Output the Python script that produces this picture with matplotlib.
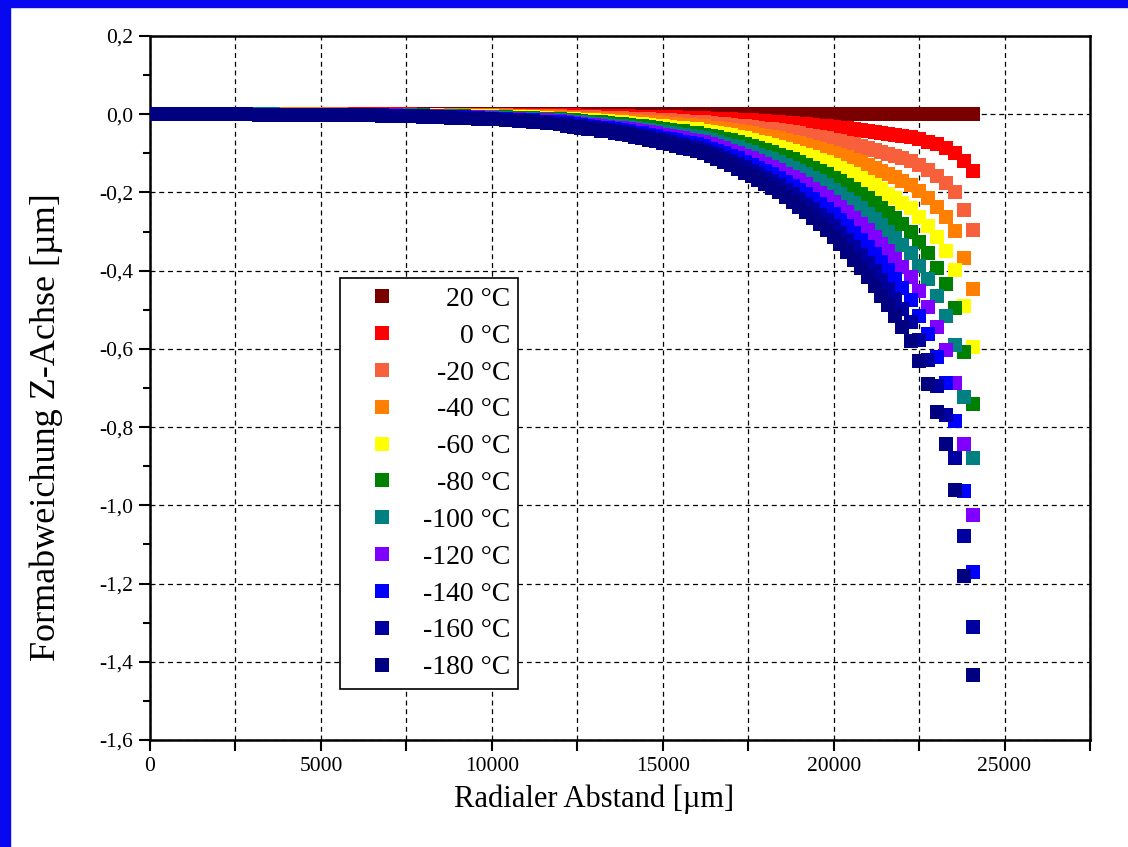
import matplotlib
matplotlib.use("Agg")
import matplotlib.pyplot as plt
from matplotlib.ticker import MultipleLocator, FuncFormatter
from matplotlib.patches import Rectangle

plt.rcParams['font.family'] = ['Liberation Serif', 'DejaVu Serif']

# radiale Stuetzstellen [um]
x = [0, 400, 800, 1200, 1600, 2000, 2400, 2800, 3200, 3600, 4000, 4400, 4800, 5200, 5600,
     6000, 6400, 6800, 7200, 7600, 8000, 8400, 8800, 9200, 9600, 10000, 10400, 10800, 11200,
     11600, 12000,
     12200, 12400, 12600, 12800, 13000, 13200, 13400, 13600, 13800, 14000, 14200, 14400,
     14600, 14800, 15000, 15200, 15400, 15600, 15800, 16000, 16200, 16400, 16600, 16800,
     17000, 17200, 17400, 17600, 17800, 18000, 18200, 18400, 18600, 18800, 19000, 19200,
     19400, 19600, 19800, 20000, 20200, 20400, 20600, 20800, 21000, 21200, 21400, 21600,
     21800, 22000, 22250, 22500, 22750, 23020, 23290, 23550, 23820, 24090]

# Formabweichung [um] je Temperatur
z_p20 = [0, 0, 0, 0, 0, 0, 0, 0, 0, 0, 0, 0, 0, 0, 0, 0, 0, 0, 0, 0, 0, 0, 0, 0, 0, 0, 0, 0, 0, 0, 0,
         0, 0, 0, 0, 0, 0, 0, 0, 0, 0, 0, 0, 0, 0, 0, 0, 0, 0, 0, 0, 0, 0, 0, 0, 0, 0, 0, 0, 0, 0,
         0, 0, 0, 0, 0, 0, 0, 0, 0, 0, 0, 0, 0, 0, 0, 0, 0, 0, 0, 0, 0, 0, 0, 0, 0, 0, 0, 0]
z_0 = [0, 0, 0, 0, 0, 0, 0, 0, 0, 0, 0, 0, 0, 0, 0, 0, 0, 0, 0, 0, -0.001, -0.001, -0.001, -0.001,
       -0.001, -0.001, -0.002, -0.002, -0.002, -0.002, -0.003,
       -0.003, -0.003, -0.004, -0.004, -0.004, -0.004, -0.005, -0.005, -0.005, -0.005, -0.006,
       -0.006, -0.007, -0.007, -0.007, -0.008, -0.008, -0.009, -0.009, -0.010, -0.010, -0.011,
       -0.012, -0.012, -0.013, -0.014, -0.015, -0.016, -0.017, -0.018, -0.019, -0.020, -0.022,
       -0.023, -0.024, -0.026, -0.027, -0.029, -0.030, -0.032, -0.034, -0.036, -0.038, -0.040,
       -0.042, -0.045, -0.047, -0.050, -0.053, -0.055, -0.059, -0.064, -0.070, -0.077, -0.086,
       -0.098, -0.120, -0.146]
z_m20 = [0, 0, 0, 0, 0, 0, 0, 0, 0, 0, 0, 0, 0, 0, 0, -0.001, -0.001, -0.001, -0.001, -0.001,
         -0.001, -0.001, -0.002, -0.002, -0.002, -0.003, -0.003, -0.004, -0.004, -0.005, -0.005,
         -0.006, -0.007, -0.007, -0.008, -0.008, -0.009, -0.009, -0.010, -0.010, -0.011, -0.012,
         -0.012, -0.013, -0.014, -0.015, -0.016, -0.017, -0.018, -0.019, -0.020, -0.021, -0.022,
         -0.024, -0.025, -0.027, -0.029, -0.031, -0.033, -0.035, -0.037, -0.039, -0.041, -0.044,
         -0.046, -0.049, -0.052, -0.055, -0.058, -0.061, -0.065, -0.069, -0.073, -0.077, -0.081,
         -0.086, -0.091, -0.096, -0.101, -0.107, -0.113, -0.120, -0.131, -0.143, -0.157, -0.175,
         -0.199, -0.244, -0.297]
z_m40 = [0, 0, 0, 0, 0, 0, 0, 0, 0, 0, 0, 0, 0, -0.001, -0.001, -0.001, -0.001, -0.001, -0.001,
         -0.002, -0.002, -0.002, -0.003, -0.003, -0.004, -0.004, -0.005, -0.005, -0.006, -0.007,
         -0.008,
         -0.009, -0.010, -0.011, -0.012, -0.012, -0.013, -0.014, -0.015, -0.016, -0.017, -0.018,
         -0.019, -0.020, -0.021, -0.023, -0.024, -0.025, -0.027, -0.028, -0.030, -0.031, -0.034,
         -0.036, -0.038, -0.041, -0.043, -0.046, -0.049, -0.052, -0.055, -0.059, -0.062, -0.066,
         -0.070, -0.074, -0.078, -0.083, -0.088, -0.093, -0.098, -0.104, -0.110, -0.116, -0.122,
         -0.130, -0.137, -0.144, -0.152, -0.161, -0.170, -0.181, -0.197, -0.215, -0.237, -0.263,
         -0.299, -0.368, -0.447]
z_m60 = [0, 0, 0, 0, 0, 0, 0, 0, 0, 0, -0.001, -0.001, -0.001, -0.001, -0.001, -0.001, -0.001,
         -0.001, -0.002, -0.002, -0.002, -0.003, -0.004, -0.004, -0.005, -0.005, -0.006, -0.007,
         -0.008, -0.010, -0.011,
         -0.012, -0.013, -0.014, -0.015, -0.016, -0.017, -0.018, -0.020, -0.021, -0.022, -0.024,
         -0.025, -0.027, -0.029, -0.030, -0.032, -0.034, -0.036, -0.037, -0.039, -0.042, -0.045,
         -0.048, -0.051, -0.054, -0.058, -0.062, -0.065, -0.070, -0.074, -0.078, -0.083, -0.088,
         -0.093, -0.098, -0.104, -0.110, -0.117, -0.123, -0.130, -0.138, -0.146, -0.154, -0.163,
         -0.173, -0.182, -0.192, -0.203, -0.214, -0.226, -0.241, -0.262, -0.286, -0.315, -0.350,
         -0.399, -0.490, -0.595]
z_m80 = [0, 0, 0, 0, 0, 0, 0, 0, 0, 0, -0.001, -0.001, -0.001, -0.001, -0.001, -0.001, -0.001,
         -0.002, -0.002, -0.003, -0.003, -0.004, -0.004, -0.005, -0.006, -0.007, -0.008, -0.009,
         -0.010, -0.012, -0.013,
         -0.015, -0.016, -0.018, -0.019, -0.020, -0.021, -0.023, -0.024, -0.026, -0.027, -0.030,
         -0.031, -0.033, -0.036, -0.038, -0.040, -0.042, -0.044, -0.047, -0.049, -0.052, -0.056,
         -0.059, -0.063, -0.067, -0.072, -0.077, -0.081, -0.087, -0.092, -0.097, -0.103, -0.110,
         -0.115, -0.122, -0.130, -0.137, -0.145, -0.153, -0.162, -0.172, -0.181, -0.192, -0.203,
         -0.215, -0.226, -0.239, -0.252, -0.266, -0.281, -0.300, -0.326, -0.355, -0.392, -0.435,
         -0.496, -0.609, -0.740]
z_m100 = [0, 0, 0, 0, 0, 0, 0, 0, 0, 0, -0.001, -0.001, -0.001, -0.001, -0.001, -0.002, -0.002,
          -0.002, -0.003, -0.003, -0.004, -0.004, -0.005, -0.006, -0.007, -0.008, -0.009, -0.011,
          -0.012, -0.014, -0.016,
          -0.018, -0.019, -0.021, -0.023, -0.024, -0.026, -0.027, -0.029, -0.031, -0.033, -0.035,
          -0.037, -0.040, -0.042, -0.045, -0.048, -0.050, -0.053, -0.055, -0.058, -0.062, -0.066,
          -0.070, -0.075, -0.080, -0.085, -0.092, -0.097, -0.103, -0.109, -0.115, -0.122, -0.130,
          -0.137, -0.145, -0.154, -0.163, -0.172, -0.182, -0.193, -0.204, -0.216, -0.228, -0.241,
          -0.255, -0.269, -0.284, -0.300, -0.317, -0.334, -0.356, -0.387, -0.422, -0.466, -0.517,
          -0.590, -0.724, -0.880]
z_m120 = [0, 0, 0, 0, 0, 0, 0, 0, -0.001, -0.001, -0.001, -0.001, -0.001, -0.002, -0.002, -0.002,
          -0.002, -0.003, -0.003, -0.004, -0.004, -0.005, -0.006, -0.007, -0.008, -0.009, -0.011,
          -0.012, -0.014, -0.016, -0.018,
          -0.021, -0.023, -0.025, -0.027, -0.028, -0.030, -0.032, -0.034, -0.036, -0.038, -0.041,
          -0.043, -0.046, -0.049, -0.052, -0.055, -0.058, -0.062, -0.065, -0.068, -0.072, -0.077,
          -0.082, -0.087, -0.093, -0.099, -0.107, -0.113, -0.120, -0.127, -0.134, -0.142, -0.152,
          -0.160, -0.169, -0.179, -0.190, -0.201, -0.212, -0.224, -0.238, -0.251, -0.265, -0.281,
          -0.297, -0.314, -0.331, -0.350, -0.369, -0.390, -0.415, -0.451, -0.492, -0.543, -0.603,
          -0.687, -0.844, -1.025]
z_m140 = [0, 0, 0, 0, 0, 0, 0, 0, -0.001, -0.001, -0.001, -0.001, -0.001, -0.002, -0.002, -0.002,
          -0.002, -0.003, -0.004, -0.004, -0.005, -0.006, -0.007, -0.008, -0.009, -0.011, -0.012,
          -0.014, -0.016, -0.019, -0.021,
          -0.023, -0.026, -0.028, -0.030, -0.032, -0.034, -0.036, -0.039, -0.041, -0.043, -0.047,
          -0.049, -0.053, -0.056, -0.060, -0.063, -0.067, -0.070, -0.074, -0.077, -0.082, -0.088,
          -0.094, -0.099, -0.106, -0.113, -0.122, -0.129, -0.137, -0.145, -0.153, -0.163, -0.173,
          -0.183, -0.193, -0.205, -0.216, -0.229, -0.242, -0.256, -0.271, -0.287, -0.303, -0.321,
          -0.339, -0.358, -0.378, -0.399, -0.421, -0.445, -0.474, -0.515, -0.562, -0.620, -0.688,
          -0.784, -0.963, -1.170]
z_m160 = [0, 0, 0, 0, 0, 0, 0, 0, -0.001, -0.001, -0.001, -0.001, -0.001, -0.002, -0.002, -0.003,
          -0.003, -0.003, -0.004, -0.005, -0.005, -0.007, -0.008, -0.009, -0.010, -0.012, -0.014,
          -0.016, -0.018, -0.021, -0.024,
          -0.026, -0.029, -0.031, -0.034, -0.035, -0.038, -0.041, -0.043, -0.046, -0.048, -0.052,
          -0.055, -0.059, -0.063, -0.067, -0.071, -0.075, -0.079, -0.083, -0.086, -0.092, -0.098,
          -0.105, -0.111, -0.119, -0.127, -0.136, -0.144, -0.153, -0.162, -0.172, -0.182, -0.194,
          -0.204, -0.216, -0.229, -0.242, -0.257, -0.271, -0.287, -0.304, -0.321, -0.339, -0.359,
          -0.380, -0.401, -0.423, -0.447, -0.472, -0.498, -0.531, -0.576, -0.629, -0.694, -0.770,
          -0.878, -1.078, -1.310]
z_m180 = [0, 0, 0, 0, 0, 0, 0, 0, -0.001, -0.001, -0.001, -0.001, -0.001, -0.002, -0.002, -0.003,
          -0.003, -0.004, -0.004, -0.005, -0.006, -0.007, -0.009, -0.010, -0.011, -0.013, -0.015,
          -0.017, -0.020, -0.023, -0.026,
          -0.029, -0.032, -0.034, -0.037, -0.039, -0.042, -0.044, -0.047, -0.050, -0.053, -0.057,
          -0.060, -0.065, -0.069, -0.073, -0.077, -0.082, -0.086, -0.090, -0.095, -0.100, -0.108,
          -0.115, -0.122, -0.131, -0.139, -0.149, -0.158, -0.168, -0.178, -0.188, -0.199, -0.212,
          -0.224, -0.237, -0.251, -0.265, -0.281, -0.297, -0.314, -0.333, -0.352, -0.372, -0.393,
          -0.416, -0.439, -0.464, -0.489, -0.517, -0.545, -0.581, -0.631, -0.689, -0.761, -0.844,
          -0.961, -1.181, -1.435]

labels = ['20 °C', '0 °C', '-20 °C', '-40 °C', '-60 °C', '-80 °C', '-100 °C',
          '-120 °C', '-140 °C', '-160 °C', '-180 °C']
reihen = [z_p20, z_0, z_m20, z_m40, z_m60, z_m80, z_m100, z_m120, z_m140, z_m160, z_m180]
farben = ['#7a0000', '#ff0000', '#f8603c', '#ff8000', '#ffff00', '#008000', '#008080',
          '#8000ff', '#0000ff', '#0000a0', '#000080']

fig = plt.figure(figsize=(11.28, 8.47), dpi=100)
# blauer Folienrand
fig.patches.append(Rectangle((0, 0), 10 / 1128, 1, transform=fig.transFigure,
                             color='#0808f0', zorder=0))
fig.patches.append(Rectangle((0, 1 - 7 / 847), 1, 7 / 847, transform=fig.transFigure,
                             color='#0808f0', zorder=0))

ax = fig.add_axes([0.133, 0.1263, 0.8333, 0.8312])

for z, lab, c in zip(reihen, labels, farben):
    ax.plot(x, z, 's', ms=10.6, mew=0, color=c, label=lab, zorder=3)

ax.set_xlim(0, 27500)
ax.set_ylim(-1.6, 0.2)
ax.xaxis.set_major_locator(MultipleLocator(5000))
ax.xaxis.set_minor_locator(MultipleLocator(2500))
ax.yaxis.set_major_locator(MultipleLocator(0.2))
ax.yaxis.set_minor_locator(MultipleLocator(0.1))
ax.yaxis.set_major_formatter(FuncFormatter(lambda v, p: f"{v:.1f}".replace('.', ',').replace('-0,0', '0,0')))
ax.xaxis.set_major_formatter(FuncFormatter(lambda v, p: f"{v:.0f}"))

ax.set_axisbelow(True)
ax.grid(True, which='major', axis='both', color='black', linestyle=(0, (4, 3)), linewidth=0.9)
ax.grid(True, which='minor', axis='x', color='black', linestyle=(0, (4, 3)), linewidth=0.9)

for s in ax.spines.values():
    s.set_linewidth(1.8)
ax.tick_params(axis='both', which='major', direction='out', length=8, width=1.5,
               labelsize=15.5, pad=4)
ax.tick_params(axis='x', which='minor', direction='out', length=8, width=1.5)
ax.tick_params(axis='y', which='minor', direction='out', length=5, width=1.5)

ax.set_xlabel('Radialer Abstand [µm]', fontsize=22)
ax.xaxis.set_label_coords(0.472, -0.063)
ax.set_ylabel('Formabweichung Z-Achse [µm]', fontsize=26)
ax.yaxis.set_label_coords(-0.093, 0.445)

leg = ax.legend(loc='upper left', bbox_to_anchor=(0.202, 0.656), borderaxespad=0,
                fontsize=20, frameon=True, fancybox=False, edgecolor='black',
                framealpha=1, handlelength=2.4, handletextpad=0.28, labelspacing=0.41,
                borderpad=0.3, numpoints=1)
leg.get_frame().set_linewidth(1.2)

# Beschriftung rechtsbuendig
fig.canvas.draw()
breiten = [t.get_window_extent().width for t in leg.get_texts()]
wmax = max(breiten)
for t, w in zip(leg.get_texts(), breiten):
    t.set_ha('right')
    t.set_position((wmax - w, 0))

fig.savefig('out.png', dpi=100)
